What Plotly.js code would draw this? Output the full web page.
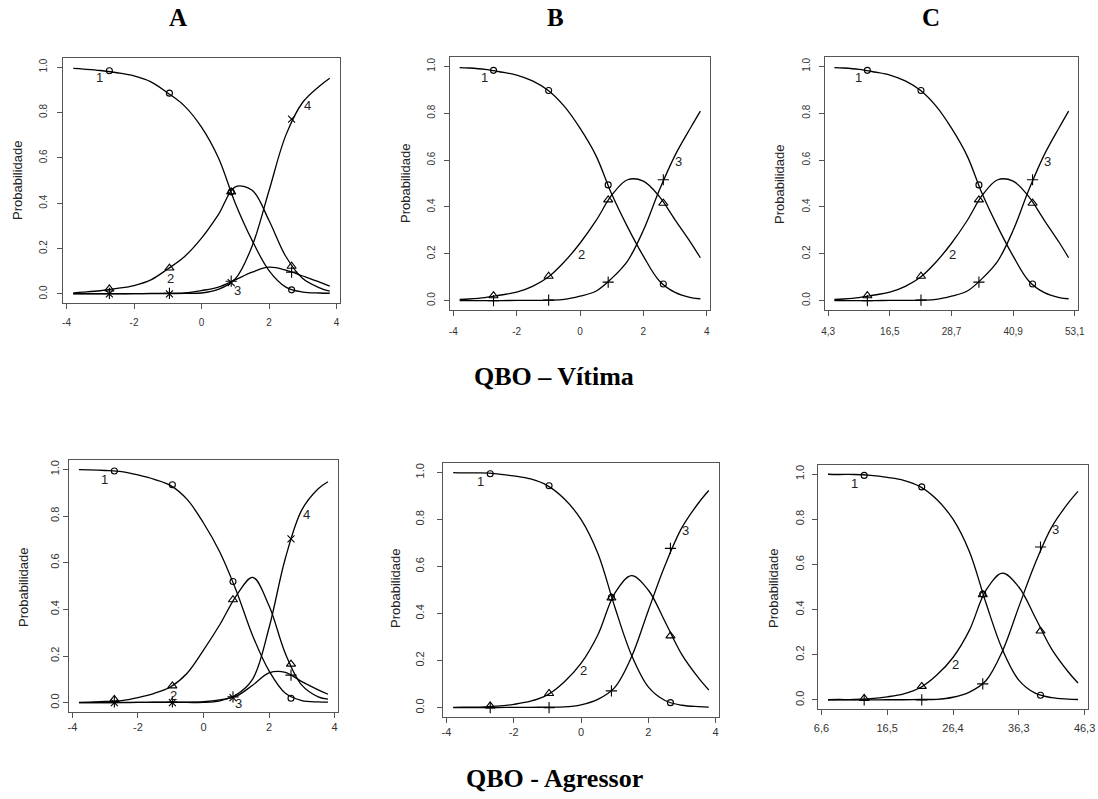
<!DOCTYPE html>
<html><head><meta charset="utf-8">
<script src="https://cdn.plot.ly/plotly-3.0.1.min.js"></script>
<style>html,body{margin:0;padding:0;background:#fff}</style>
</head><body><div id="chart" style="width:1098px;height:799px"></div>
<script>
// ---- data ----
const theta = [-3.8,-3.5,-3,-2.5,-2,-1.5,-1,-0.5,0,0.5,1,1.5,2,2.5,3,3.5,3.8];

// QBO – Vítima, panel A (4 categories)
const vitA_cat1 = [.994,.991,.985,.975,.961,.935,.886,.828,.735,.60,.40,.236,.103,.030,.008,.004,.003];
const vitA_cat2 = [.005,.008,.014,.024,.037,.062,.110,.165,.246,.35,.472,.457,.324,.165,.068,.027,.012];
const vitA_cat3 = [.001,.001,.001,.001,.001,.002,.003,.005,.015,.03,.062,.096,.118,.105,.079,.052,.034];
const vitA_cat4 = [0,0,0,0,.001,.001,.001,.002,.004,.02,.066,.211,.455,.70,.845,.917,.951];
const vitA_markTheta = [-2.73,-0.95,0.88,2.67];
const vitA_mark1 = [.984,.885,.45,.018];
const vitA_mark2 = [.022,.114,.45,.122];
const vitA_mark3 = [.002,.002,.056,.096];
const vitA_mark4 = [0,0,.05,.771];

// QBO – Vítima, panels B and C (3 categories)
const vitB_cat1 = [.995,.993,.987,.976,.963,.938,.897,.83,.736,.62,.455,.315,.19,.085,.035,.013,.008];
const vitB_cat2 = [.005,.007,.013,.024,.036,.061,.101,.165,.245,.34,.45,.516,.51,.445,.345,.247,.183];
const vitB_cat3 = [0,0,0,0,.001,.001,.002,.005,.019,.04,.095,.169,.30,.47,.62,.74,.809];
const vitB_markTheta = [-2.73,-0.99,0.89,2.63];
const vitB_mark1 = [.983,.897,.494,.071];
const vitB_mark2 = [.021,.104,.43,.416];
const vitB_mark3 = [0,.002,.079,.516];

// QBO - Agressor, panel A (4 categories)
const agrA_cat1 = [.999,.998,.995,.99,.976,.957,.93,.871,.77,.645,.48,.287,.136,.04,.009,.003,.002];
const agrA_cat2 = [.001,.002,.005,.009,.022,.04,.068,.126,.225,.335,.458,.537,.415,.21,.075,.025,.015];
const agrA_cat3 = [0,0,0,.001,.001,.002,.002,.002,.004,.012,.028,.075,.128,.13,.09,.055,.036];
const agrA_cat4 = [0,0,0,0,.001,.001,.001,.001,.001,.008,.034,.101,.321,.62,.826,.917,.947];
const agrA_markTheta = [-2.72,-0.95,0.9,2.67];
const agrA_mark1 = [.993,.934,.519,.019];
const agrA_mark2 = [.014,.072,.441,.165];
const agrA_mark3 = [.003,.003,.025,.118];
const agrA_mark4 = [0,0,.022,.702];

// QBO - Agressor, panels B and C (3 categories)
const agrB_cat1 = [.999,.998,.998,.994,.985,.972,.944,.888,.80,.656,.43,.224,.088,.030,.01,.004,.002];
const agrB_cat2 = [.001,.002,.002,.006,.014,.027,.054,.109,.188,.309,.485,.561,.50,.365,.225,.125,.075];
const agrB_cat3 = [0,0,0,0,.001,.001,.002,.003,.012,.035,.085,.215,.412,.605,.765,.871,.923];
const agrB_markTheta = [-2.7,-0.95,0.905,2.66];
const agrB_mark1 = [.994,.943,.469,.021];
const agrB_mark2 = [.007,.06,.466,.305];
const agrB_mark3 = [0,0,.071,.677];

// tick labels and texts
const xTickVals = [-4,-2,0,2,4];
const xTickText_theta = ['-4','-2','0','2','4'];
const xTickText_vitC = ['4,3','16,5','28,7','40,9','53,1'];
const xTickText_agrC = ['6,6','16,5','26,4','36,3','46,3'];
const yTickVals = [0,0.2,0.4,0.6,0.8,1.0];
const yTickText = ['0.0','0.2','0.4','0.6','0.8','1.0'];
const catLabels = ['1','2','3','4'];
const columnHeads = ['A','B','C'];
const groupTitles = ['QBO – Vítima','QBO - Agressor'];
const yTitle = 'Probabilidade';

// ---- layout / styling ----
const W = 1098, H = 799;
const symbols = ['circle-open','triangle-up-open','cross-thin-open','x-thin-open'];
const msizes = [6,8,8,7];

const panels = [
  {cats:[vitA_cat1,vitA_cat2,vitA_cat3,vitA_cat4], mt:vitA_markTheta, mk:[vitA_mark1,vitA_mark2,vitA_mark3,vitA_mark4],
   labPos:[[-3.03,.953],[-0.93,.068],[1.06,.015],[3.13,.83]], tt:xTickText_theta,
   box:[63,340,58,303], fs:10, xs:5, ys:6, yt:[17,180]},
  {cats:[vitB_cat1,vitB_cat2,vitB_cat3], mt:vitB_markTheta, mk:[vitB_mark1,vitB_mark2,vitB_mark3],
   labPos:[[-3.02,.951],[0.04,.197],[3.1,.593]], tt:xTickText_theta,
   box:[450,710,57,310], fs:10, xs:7, ys:5, yt:[405,183]},
  {cats:[vitB_cat1,vitB_cat2,vitB_cat3], mt:vitB_markTheta, mk:[vitB_mark1,vitB_mark2,vitB_mark3],
   labPos:[[-3.02,.951],[0.04,.197],[3.12,.593]], tt:xTickText_vitC,
   box:[825,1078,57,310], fs:10, xs:7, ys:5, yt:[780,184]},
  {cats:[agrA_cat1,agrA_cat2,agrA_cat3,agrA_cat4], mt:agrA_markTheta, mk:[agrA_mark1,agrA_mark2,agrA_mark3,agrA_mark4],
   labPos:[[-3.01,.957],[-0.93,.032],[1.06,-.003],[3.13,.807]], tt:xTickText_theta,
   box:[69,338,460,712], fs:11, xs:0, ys:0, yt:[23,587]},
  {cats:[agrB_cat1,agrB_cat2,agrB_cat3], mt:agrB_markTheta, mk:[agrB_mark1,agrB_mark2,agrB_mark3],
   labPos:[[-2.99,.96],[0.08,.157],[3.12,.754]], tt:xTickText_theta,
   box:[443,719,463,717], fs:11, xs:0, ys:9, yt:[395,588]},
  {cats:[agrB_cat1,agrB_cat2,agrB_cat3], mt:agrB_markTheta, mk:[agrB_mark1,agrB_mark2,agrB_mark3],
   labPos:[[-2.99,.96],[0.08,.157],[3.12,.754]], tt:xTickText_agrC,
   box:[818,1088,465,709], fs:11, xs:4, ys:4, yt:[773,588]}
];

const traces = [];
const layout = {
  width: W, height: H, margin:{l:0,r:0,t:0,b:0},
  paper_bgcolor:'#fff', plot_bgcolor:'#fff', showlegend:false,
  font:{family:'Liberation Sans, Arial, sans-serif', color:'#222'},
  annotations: []
};

panels.forEach((p, i) => {
  const n = i + 1;
  const xa = n === 1 ? 'x' : 'x' + n;
  const ya = n === 1 ? 'y' : 'y' + n;
  const xk = n === 1 ? 'xaxis' : 'xaxis' + n;
  const yk = n === 1 ? 'yaxis' : 'yaxis' + n;
  p.cats.forEach((c, k) => {
    traces.push({x: theta, y: c, xaxis: xa, yaxis: ya, type:'scatter', mode:'lines',
      line:{color:'#000', width:1.3, shape:'spline', smoothing:1}, hoverinfo:'skip'});
    traces.push({x: p.mt, y: p.mk[k], xaxis: xa, yaxis: ya, type:'scatter', mode:'markers',
      marker:{symbol:symbols[k], size:msizes[k], color:'#000', line:{color:'#000', width:1.1}}, hoverinfo:'skip'});
  });
  const [l, r, t, b] = p.box;
  layout[xk] = {domain:[l/W, r/W], anchor: ya, range:[-4.104, 4.104], showgrid:false, zeroline:false,
    showline:true, mirror:true, linecolor:'#555', linewidth:1, ticks:'outside', ticklen:5, tickcolor:'#555',
    tickvals:xTickVals, ticktext:p.tt, tickfont:{size:p.fs, color:'#333'}, ticklabelstandoff:p.xs, automargin:false, fixedrange:true};
  layout[yk] = {domain:[1 - b/H, 1 - t/H], anchor: xa, range:[-0.04, 1.04], showgrid:false, zeroline:false,
    showline:true, mirror:true, linecolor:'#555', linewidth:1, ticks:'outside', ticklen:5, tickcolor:'#555',
    tickvals:yTickVals, ticktext:yTickText, tickangle:-90, tickfont:{size:p.fs, color:'#333'}, ticklabelstandoff:p.ys, automargin:false, fixedrange:true};
  p.labPos.forEach((lp, k) => {
    layout.annotations.push({xref:xa, yref:ya, x:lp[0], y:lp[1], text:catLabels[k], showarrow:false,
      font:{size:13, color:'#222'}, xanchor:'center', yanchor:'middle'});
  });
  layout.annotations.push({xref:'paper', yref:'paper', x:p.yt[0]/W, y:1 - p.yt[1]/H, text:yTitle, textangle:-90,
    showarrow:false, font:{size:13, color:'#222'}, xanchor:'center', yanchor:'middle'});
});

const headX = [178, 555, 931];
columnHeads.forEach((h, i) => {
  layout.annotations.push({xref:'paper', yref:'paper', x:headX[i]/W, y:1 - 18/H, text:'<b>' + h + '</b>',
    showarrow:false, font:{family:'Liberation Serif, Times New Roman, serif', size:25, color:'#000'}, xanchor:'center', yanchor:'middle'});
});
const groupY = [377, 778];
groupTitles.forEach((g, i) => {
  layout.annotations.push({xref:'paper', yref:'paper', x:554/W, y:1 - groupY[i]/H, text:'<b>' + g + '</b>',
    showarrow:false, font:{family:'Liberation Serif, Times New Roman, serif', size:26, color:'#000'}, xanchor:'center', yanchor:'middle'});
});

Plotly.newPlot('chart', traces, layout, {staticPlot:true, displayModeBar:false});
</script>
</body></html>
